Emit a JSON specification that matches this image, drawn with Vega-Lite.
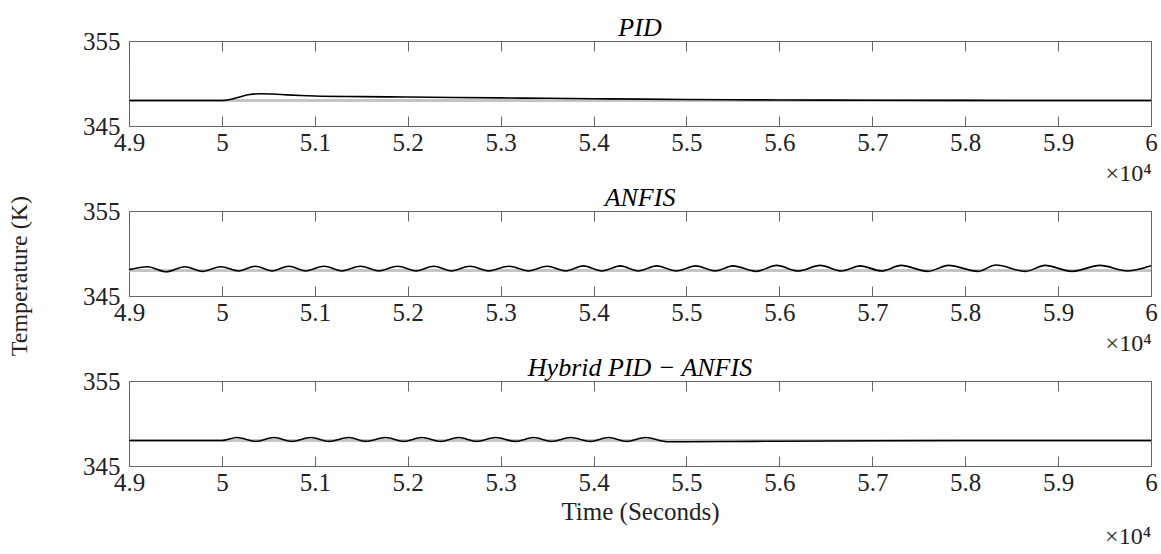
{
  "$schema": "https://vega.github.io/schema/vega-lite/v6.json",
  "padding": {"top": 14, "left": 8, "right": 5, "bottom": 0},
  "bounds": "flush",
  "spacing": 85,
  "title": {"text": "Temperature (K)", "orient": "left", "anchor": "middle", "font": "Liberation Serif", "fontSize": 24, "fontWeight": "normal", "color": "#222", "offset": 50, "dx": 6},
  "config": {
    "view": {"stroke": "#666", "strokeWidth": 1},
    "font": "Liberation Serif",
    "axis": {"labelFont": "Liberation Serif", "titleFont": "Liberation Serif", "labelColor": "#222", "titleColor": "#222", "titleFontWeight": "normal", "grid": false}
  },
  "datasets": {
    "sim": [
      {"ctrl": "PID", "t": 49000, "T": 348.0},
      {"ctrl": "PID", "t": 50000, "T": 348.0},
      {"ctrl": "PID", "t": 50100, "T": 348.15},
      {"ctrl": "PID", "t": 50200, "T": 348.45},
      {"ctrl": "PID", "t": 50300, "T": 348.7},
      {"ctrl": "PID", "t": 50420, "T": 348.8},
      {"ctrl": "PID", "t": 50550, "T": 348.76},
      {"ctrl": "PID", "t": 50700, "T": 348.66},
      {"ctrl": "PID", "t": 50850, "T": 348.58},
      {"ctrl": "PID", "t": 51000, "T": 348.53},
      {"ctrl": "PID", "t": 51500, "T": 348.46},
      {"ctrl": "PID", "t": 52000, "T": 348.41},
      {"ctrl": "PID", "t": 52500, "T": 348.36},
      {"ctrl": "PID", "t": 53000, "T": 348.31},
      {"ctrl": "PID", "t": 53500, "T": 348.26},
      {"ctrl": "PID", "t": 54000, "T": 348.21},
      {"ctrl": "PID", "t": 54500, "T": 348.16},
      {"ctrl": "PID", "t": 55000, "T": 348.12},
      {"ctrl": "PID", "t": 55500, "T": 348.09},
      {"ctrl": "PID", "t": 56000, "T": 348.06},
      {"ctrl": "PID", "t": 56500, "T": 348.04},
      {"ctrl": "PID", "t": 57000, "T": 348.03},
      {"ctrl": "PID", "t": 58000, "T": 348.01},
      {"ctrl": "PID", "t": 59000, "T": 348.0},
      {"ctrl": "PID", "t": 60000, "T": 348.0},

      {"ctrl": "ANFIS", "t": 49000, "T": 348.1},
      {"ctrl": "ANFIS", "t": 49200, "T": 348.45},
      {"ctrl": "ANFIS", "t": 49400, "T": 347.85},
      {"ctrl": "ANFIS", "t": 49600, "T": 348.45},
      {"ctrl": "ANFIS", "t": 49790, "T": 347.9},
      {"ctrl": "ANFIS", "t": 49990, "T": 348.45},
      {"ctrl": "ANFIS", "t": 50180, "T": 347.95},
      {"ctrl": "ANFIS", "t": 50360, "T": 348.5},
      {"ctrl": "ANFIS", "t": 50540, "T": 347.95},
      {"ctrl": "ANFIS", "t": 50720, "T": 348.5},
      {"ctrl": "ANFIS", "t": 50900, "T": 347.95},
      {"ctrl": "ANFIS", "t": 51100, "T": 348.5},
      {"ctrl": "ANFIS", "t": 51290, "T": 347.95},
      {"ctrl": "ANFIS", "t": 51490, "T": 348.5},
      {"ctrl": "ANFIS", "t": 51690, "T": 347.95},
      {"ctrl": "ANFIS", "t": 51890, "T": 348.5},
      {"ctrl": "ANFIS", "t": 52090, "T": 347.95},
      {"ctrl": "ANFIS", "t": 52280, "T": 348.5},
      {"ctrl": "ANFIS", "t": 52470, "T": 347.95},
      {"ctrl": "ANFIS", "t": 52670, "T": 348.5},
      {"ctrl": "ANFIS", "t": 52870, "T": 347.95},
      {"ctrl": "ANFIS", "t": 53090, "T": 348.5},
      {"ctrl": "ANFIS", "t": 53300, "T": 347.95},
      {"ctrl": "ANFIS", "t": 53500, "T": 348.5},
      {"ctrl": "ANFIS", "t": 53700, "T": 347.95},
      {"ctrl": "ANFIS", "t": 53890, "T": 348.55},
      {"ctrl": "ANFIS", "t": 54090, "T": 347.95},
      {"ctrl": "ANFIS", "t": 54290, "T": 348.55},
      {"ctrl": "ANFIS", "t": 54480, "T": 347.95},
      {"ctrl": "ANFIS", "t": 54680, "T": 348.55},
      {"ctrl": "ANFIS", "t": 54890, "T": 347.95},
      {"ctrl": "ANFIS", "t": 55100, "T": 348.55},
      {"ctrl": "ANFIS", "t": 55310, "T": 347.95},
      {"ctrl": "ANFIS", "t": 55500, "T": 348.55},
      {"ctrl": "ANFIS", "t": 55750, "T": 347.9},
      {"ctrl": "ANFIS", "t": 55970, "T": 348.6},
      {"ctrl": "ANFIS", "t": 56200, "T": 347.95},
      {"ctrl": "ANFIS", "t": 56440, "T": 348.6},
      {"ctrl": "ANFIS", "t": 56670, "T": 347.95},
      {"ctrl": "ANFIS", "t": 56870, "T": 348.55},
      {"ctrl": "ANFIS", "t": 57100, "T": 347.95},
      {"ctrl": "ANFIS", "t": 57310, "T": 348.6},
      {"ctrl": "ANFIS", "t": 57600, "T": 347.9},
      {"ctrl": "ANFIS", "t": 57820, "T": 348.6},
      {"ctrl": "ANFIS", "t": 58140, "T": 347.9},
      {"ctrl": "ANFIS", "t": 58330, "T": 348.65},
      {"ctrl": "ANFIS", "t": 58650, "T": 347.9},
      {"ctrl": "ANFIS", "t": 58860, "T": 348.6},
      {"ctrl": "ANFIS", "t": 59150, "T": 347.9},
      {"ctrl": "ANFIS", "t": 59450, "T": 348.6},
      {"ctrl": "ANFIS", "t": 59750, "T": 347.95},
      {"ctrl": "ANFIS", "t": 60000, "T": 348.55},

      {"ctrl": "Hybrid", "t": 49000, "T": 348.0},
      {"ctrl": "Hybrid", "t": 50000, "T": 348.0},
      {"ctrl": "Hybrid", "t": 50161, "T": 348.35},
      {"ctrl": "Hybrid", "t": 50366, "T": 347.9},
      {"ctrl": "Hybrid", "t": 50559, "T": 348.35},
      {"ctrl": "Hybrid", "t": 50753, "T": 347.9},
      {"ctrl": "Hybrid", "t": 50957, "T": 348.35},
      {"ctrl": "Hybrid", "t": 51151, "T": 347.9},
      {"ctrl": "Hybrid", "t": 51366, "T": 348.35},
      {"ctrl": "Hybrid", "t": 51548, "T": 347.9},
      {"ctrl": "Hybrid", "t": 51763, "T": 348.35},
      {"ctrl": "Hybrid", "t": 51957, "T": 347.9},
      {"ctrl": "Hybrid", "t": 52151, "T": 348.35},
      {"ctrl": "Hybrid", "t": 52355, "T": 347.9},
      {"ctrl": "Hybrid", "t": 52548, "T": 348.35},
      {"ctrl": "Hybrid", "t": 52742, "T": 347.9},
      {"ctrl": "Hybrid", "t": 52946, "T": 348.35},
      {"ctrl": "Hybrid", "t": 53161, "T": 347.9},
      {"ctrl": "Hybrid", "t": 53355, "T": 348.35},
      {"ctrl": "Hybrid", "t": 53548, "T": 347.9},
      {"ctrl": "Hybrid", "t": 53753, "T": 348.35},
      {"ctrl": "Hybrid", "t": 53968, "T": 347.9},
      {"ctrl": "Hybrid", "t": 54161, "T": 348.35},
      {"ctrl": "Hybrid", "t": 54355, "T": 347.9},
      {"ctrl": "Hybrid", "t": 54559, "T": 348.35},
      {"ctrl": "Hybrid", "t": 54806, "T": 347.85},
      {"ctrl": "Hybrid", "t": 55000, "T": 347.85},
      {"ctrl": "Hybrid", "t": 55500, "T": 347.88},
      {"ctrl": "Hybrid", "t": 56000, "T": 347.92},
      {"ctrl": "Hybrid", "t": 57000, "T": 347.97},
      {"ctrl": "Hybrid", "t": 58000, "T": 348.0},
      {"ctrl": "Hybrid", "t": 60000, "T": 348.0}
    ],
    "note": [{"label": "×10⁴"}]
  },
  "vconcat": [
    {
      "width": 1022, "height": 85,
      "data": {"name": "sim"},
      "title": {"text": "PID", "font": "Liberation Serif", "fontStyle": "italic", "fontSize": 26, "fontWeight": "normal", "color": "#000", "offset": -12},
      "resolve": {"scale": {"x": "independent"}, "axis": {"x": "independent"}},
      "layer": [
        {"mark": {"type": "rule", "color": "#c4c4c4", "strokeWidth": 2.5},
         "encoding": {"y": {"datum": 348, "type": "quantitative", "scale": {"domain": [345, 355]}}}},
        {"transform": [{"filter": "datum.ctrl == 'PID'"}],
         "mark": {"type": "line", "color": "#000", "strokeWidth": 1.6, "interpolate": "monotone"},
         "encoding": {
           "x": {"field": "t", "type": "quantitative", "scale": {"domain": [49000, 60000], "nice": false, "zero": false},
                 "axis": {"values": [49000, 50000, 51000, 52000, 53000, 54000, 55000, 56000, 57000, 58000, 59000, 60000], "labelExpr": "format(datum.value / 10000, '~g')", "tickSize": -10, "tickColor": "#666", "domainColor": "#666", "labelFontSize": 25, "labelPadding": 14, "labelFlush": false, "labelOverlap": false, "title": "×10⁴", "titleFontSize": 24, "titleAnchor": "end", "titlePadding": 6}},
           "y": {"field": "T", "type": "quantitative", "scale": {"domain": [345, 355], "nice": false, "zero": false},
                 "axis": {"values": [345, 355], "title": null, "ticks": false, "domain": false, "labelFontSize": 25, "labelPadding": 9, "labelFlush": false, "labelOverlap": false}}
         }},
        {"transform": [{"filter": "datum.ctrl == 'PID'"}],
         "mark": {"type": "line", "opacity": 0},
         "encoding": {
           "x": {"field": "t", "type": "quantitative", "scale": {"domain": [49000, 60000], "nice": false, "zero": false},
                 "axis": {"orient": "top", "values": [49000, 50000, 51000, 52000, 53000, 54000, 55000, 56000, 57000, 58000, 59000, 60000], "labels": false, "tickSize": -10, "tickColor": "#666", "domain": false, "title": null}},
           "y": {"field": "T", "type": "quantitative"}
         }}
      ]
    },
    {
      "width": 1022, "height": 85,
      "data": {"name": "sim"},
      "title": {"text": "ANFIS", "font": "Liberation Serif", "fontStyle": "italic", "fontSize": 26, "fontWeight": "normal", "color": "#000", "offset": -12},
      "resolve": {"scale": {"x": "independent"}, "axis": {"x": "independent"}},
      "layer": [
        {"mark": {"type": "rule", "color": "#c4c4c4", "strokeWidth": 2.5},
         "encoding": {"y": {"datum": 348, "type": "quantitative", "scale": {"domain": [345, 355]}}}},
        {"transform": [{"filter": "datum.ctrl == 'ANFIS'"}],
         "mark": {"type": "line", "color": "#000", "strokeWidth": 1.6, "interpolate": "monotone"},
         "encoding": {
           "x": {"field": "t", "type": "quantitative", "scale": {"domain": [49000, 60000], "nice": false, "zero": false},
                 "axis": {"values": [49000, 50000, 51000, 52000, 53000, 54000, 55000, 56000, 57000, 58000, 59000, 60000], "labelExpr": "format(datum.value / 10000, '~g')", "tickSize": -10, "tickColor": "#666", "domainColor": "#666", "labelFontSize": 25, "labelPadding": 14, "labelFlush": false, "labelOverlap": false, "title": "×10⁴", "titleFontSize": 24, "titleAnchor": "end", "titlePadding": 6}},
           "y": {"field": "T", "type": "quantitative", "scale": {"domain": [345, 355], "nice": false, "zero": false},
                 "axis": {"values": [345, 355], "title": null, "ticks": false, "domain": false, "labelFontSize": 25, "labelPadding": 9, "labelFlush": false, "labelOverlap": false}}
         }},
        {"transform": [{"filter": "datum.ctrl == 'ANFIS'"}],
         "mark": {"type": "line", "opacity": 0},
         "encoding": {
           "x": {"field": "t", "type": "quantitative", "scale": {"domain": [49000, 60000], "nice": false, "zero": false},
                 "axis": {"orient": "top", "values": [49000, 50000, 51000, 52000, 53000, 54000, 55000, 56000, 57000, 58000, 59000, 60000], "labels": false, "tickSize": -10, "tickColor": "#666", "domain": false, "title": null}},
           "y": {"field": "T", "type": "quantitative"}
         }}
      ]
    },
    {
      "width": 1022, "height": 85,
      "data": {"name": "sim"},
      "title": {"text": "Hybrid PID − ANFIS", "font": "Liberation Serif", "fontStyle": "italic", "fontSize": 26, "fontWeight": "normal", "color": "#000", "offset": -12},
      "resolve": {"scale": {"x": "independent"}, "axis": {"x": "independent"}},
      "layer": [
        {"mark": {"type": "rule", "color": "#c4c4c4", "strokeWidth": 2.5},
         "encoding": {"y": {"datum": 348, "type": "quantitative", "scale": {"domain": [345, 355]}}}},
        {"transform": [{"filter": "datum.ctrl == 'Hybrid'"}],
         "mark": {"type": "line", "color": "#000", "strokeWidth": 1.6, "interpolate": "monotone"},
         "encoding": {
           "x": {"field": "t", "type": "quantitative", "scale": {"domain": [49000, 60000], "nice": false, "zero": false},
                 "axis": {"values": [49000, 50000, 51000, 52000, 53000, 54000, 55000, 56000, 57000, 58000, 59000, 60000], "labelExpr": "format(datum.value / 10000, '~g')", "tickSize": -10, "tickColor": "#666", "domainColor": "#666", "labelFontSize": 25, "labelPadding": 14, "labelFlush": false, "labelOverlap": false, "title": "Time (Seconds)", "titleFontSize": 25, "titlePadding": 4}},
           "y": {"field": "T", "type": "quantitative", "scale": {"domain": [345, 355], "nice": false, "zero": false},
                 "axis": {"values": [345, 355], "title": null, "ticks": false, "domain": false, "labelFontSize": 25, "labelPadding": 9, "labelFlush": false, "labelOverlap": false}}
         }},
        {"transform": [{"filter": "datum.ctrl == 'Hybrid'"}],
         "mark": {"type": "line", "opacity": 0},
         "encoding": {
           "x": {"field": "t", "type": "quantitative", "scale": {"domain": [49000, 60000], "nice": false, "zero": false},
                 "axis": {"orient": "top", "values": [49000, 50000, 51000, 52000, 53000, 54000, 55000, 56000, 57000, 58000, 59000, 60000], "labels": false, "tickSize": -10, "tickColor": "#666", "domain": false, "title": null}},
           "y": {"field": "T", "type": "quantitative"}
         }},
        {"data": {"name": "note"},
         "mark": {"type": "text", "align": "right", "baseline": "alphabetic", "fontSize": 24, "font": "Liberation Serif", "color": "#222", "clip": false},
         "encoding": {
           "text": {"field": "label"},
           "x": {"datum": 60000, "type": "quantitative", "scale": {"domain": [49000, 60000], "nice": false, "zero": false}, "axis": null},
           "y": {"datum": 335.8, "type": "quantitative"}
         }}
      ]
    }
  ]
}
